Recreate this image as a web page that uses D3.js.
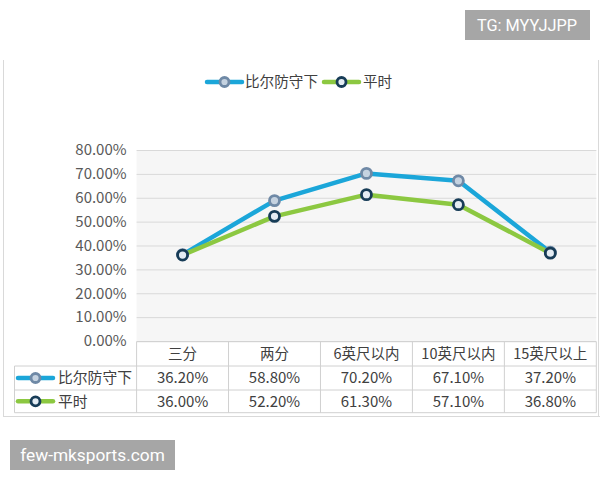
<!DOCTYPE html>
<html><head><meta charset="utf-8">
<script src="https://cdn.jsdelivr.net/npm/d3@7"></script>
<style>body{margin:0;background:#fff}svg{display:block}</style>
</head><body>
<script>
const categories = ["三分","两分","6英尺以内","10英尺以内","15英尺以上"];
const seriesNames = ["比尔防守下","平时"];
const seriesA = [36.2, 58.8, 70.2, 67.1, 37.2];
const seriesB = [36.0, 52.2, 61.3, 57.1, 36.8];
const yTicks = [0,10,20,30,40,50,60,70,80];

(function(){
const W=600,H=480;
const font='"Noto Sans CJK SC","Noto Sans",sans-serif';
const svg=d3.select("body").append("svg").attr("width",W).attr("height",H);

svg.append("line").attr("x1",3.5).attr("x2",3.5).attr("y1",60).attr("y2",417).attr("stroke","#d9d9d9");
svg.append("line").attr("x1",598.5).attr("x2",598.5).attr("y1",60).attr("y2",417).attr("stroke","#d9d9d9");
svg.append("line").attr("x1",3).attr("x2",600).attr("y1",416.5).attr("y2",416.5).attr("stroke","#d9d9d9");

const pL=136.6,pR=596.3,pT=150,pB=341;
const x=d3.scaleBand().domain(categories).range([pL,pR]).padding(0);
const y=d3.scaleLinear().domain([0,80]).range([pB,pT]);

svg.append("rect").attr("x",pL).attr("y",pT).attr("width",pR-pL).attr("height",pB-pT).attr("fill","#f6f6f6");

const yAxis=d3.axisLeft(y).tickValues(yTicks).tickSize(-(pR-pL)).tickFormat(d=>d3.format(".2f")(d)+"%");
const gy=svg.append("g").attr("transform",`translate(${pL},0)`).call(yAxis);
gy.select(".domain").remove();
gy.selectAll(".tick line").attr("stroke","#d9d9d9").attr("stroke-width",1);
gy.selectAll(".tick text").attr("x",-10).attr("fill","#595959").attr("font-size",15).attr("font-family",font);

const colors=[{line:"#1ba6d9",fill:"#c5d2e0",stroke:"#6f89a6"},{line:"#8cc841",fill:"#e4ecf3",stroke:"#173c57"}];
const data=[seriesA,seriesB];
const cx=d=>x(d)+x.bandwidth()/2;
const line=d3.line().x((d,i)=>cx(categories[i])).y(d=>y(d));
data.forEach((s,k)=>{
  svg.append("path").datum(s).attr("d",line).attr("fill","none").attr("stroke",colors[k].line).attr("stroke-width",4.5).attr("stroke-linejoin","round");
});
data.forEach((s,k)=>{
  svg.selectAll(null).data(s).enter().append("circle").attr("cx",(d,i)=>cx(categories[i])).attr("cy",d=>y(d)).attr("r",5)
    .attr("fill",colors[k].fill).attr("stroke",colors[k].stroke).attr("stroke-width",2.8);
});

function legendSym(g,k,x0,yc,w){
  g.append("line").attr("x1",x0).attr("x2",x0+w).attr("y1",yc).attr("y2",yc).attr("stroke",colors[k].line).attr("stroke-width",4.5).attr("stroke-linecap","round");
  g.append("circle").attr("cx",x0+w/2).attr("cy",yc).attr("r",4.5).attr("fill",colors[k].fill).attr("stroke",colors[k].stroke).attr("stroke-width",2.8);
}
const lg=svg.append("g");
legendSym(lg,0,207,82,35);
lg.append("text").attr("x",245).attr("y",82).attr("dy","0.35em").text(seriesNames[0]).attr("font-size",14.6).attr("fill","#404040").attr("font-family",font);
legendSym(lg,1,324,82,35);
lg.append("text").attr("x",363).attr("y",82).attr("dy","0.35em").text(seriesNames[1]).attr("font-size",14.6).attr("fill","#404040").attr("font-family",font);

const rows=[341.7,366,390,412.7];
const tableLeft=14.5;
const tg=svg.append("g");
const gc="#d0d0d0";
tg.append("line").attr("x1",pL).attr("x2",pR).attr("y1",rows[0]).attr("y2",rows[0]).attr("stroke",gc);
[rows[1],rows[2],rows[3]].forEach(yy=>tg.append("line").attr("x1",tableLeft).attr("x2",pR).attr("y1",yy).attr("y2",yy).attr("stroke",gc));
tg.append("line").attr("x1",tableLeft).attr("x2",tableLeft).attr("y1",rows[1]).attr("y2",rows[3]).attr("stroke",gc);
categories.forEach(c=>tg.append("line").attr("x1",x(c)).attr("x2",x(c)).attr("y1",rows[0]).attr("y2",rows[3]).attr("stroke",gc));
tg.append("line").attr("x1",pR).attr("x2",pR).attr("y1",rows[0]).attr("y2",rows[3]).attr("stroke",gc);
categories.forEach(c=>tg.append("text").attr("x",cx(c)).attr("y",(rows[0]+rows[1])/2).attr("dy","0.35em").attr("text-anchor","middle")
  .text(c).attr("font-size",14.5).attr("fill","#404040").attr("font-family",font));
data.forEach((s,k)=>{
  const yc=(rows[k+1]+rows[k+2])/2;
  legendSym(tg,k,18,yc,35);
  tg.append("text").attr("x",58).attr("y",yc).attr("dy","0.35em").text(seriesNames[k]).attr("font-size",14.8).attr("fill","#404040").attr("font-family",font);
  s.forEach((v,i)=>tg.append("text").attr("x",cx(categories[i])).attr("y",yc).attr("dy","0.35em").attr("text-anchor","middle")
    .text(d3.format(".2f")(v)+"%").attr("font-size",15).attr("fill","#404040").attr("font-family",font));
});

svg.append("rect").attr("x",465).attr("y",10).attr("width",125).attr("height",30).attr("fill","#a6a6a6");
svg.append("text").attr("x",527).attr("y",25).attr("dy","0.35em").attr("text-anchor","middle").text("TG: MYYJJPP").attr("fill","#fff").attr("font-size",16.3).attr("font-family","Roboto,sans-serif");
svg.append("rect").attr("x",10).attr("y",440).attr("width",165).attr("height",30).attr("fill","#a6a6a6");
svg.append("text").attr("x",92.5).attr("y",455).attr("dy","0.35em").attr("text-anchor","middle").text("few-mksports.com").attr("fill","#fff").attr("font-size",17.3).attr("font-family","Roboto,sans-serif");
})();
</script>
</body></html>
